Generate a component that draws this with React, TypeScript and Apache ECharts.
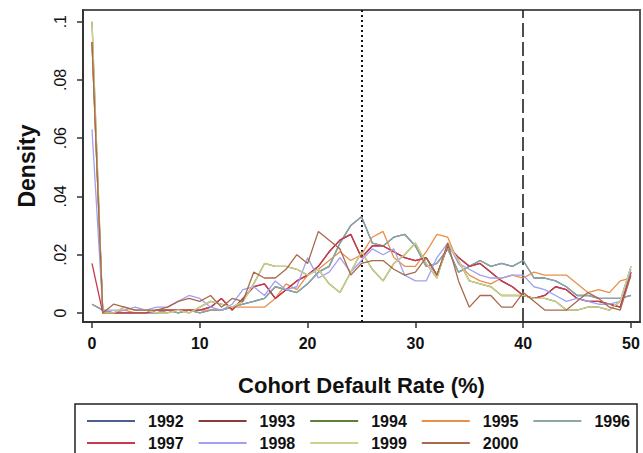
import React, { useEffect, useRef } from "react";
import * as echarts from "echarts";

const rates = [0, 1, 2, 3, 4, 5, 6, 7, 8, 9, 10, 11, 12, 13, 14, 15, 16, 17, 18, 19, 20, 21, 22, 23, 24, 25, 26, 27, 28, 29, 30, 31, 32, 33, 34, 35, 36, 37, 38, 39, 40, 41, 42, 43, 44, 45, 46, 47, 48, 49, 50];

const years = ["1992", "1993", "1994", "1995", "1996", "1997", "1998", "1999", "2000"];
const colors = ["#4c5f8f", "#8c3b3b", "#5f7f3f", "#e89048", "#8fa89f", "#c8384e", "#a0a0f0", "#cfd08a", "#a86a4a"];

const d1992 = [0.003, 0.001, 0.000, 0.000, 0.000, 0.000, 0.000, 0.001, 0.000, 0.001, 0.000, 0.001, 0.001, 0.002, 0.003, 0.004, 0.005, 0.009, 0.008, 0.007, 0.010, 0.014, 0.016, 0.024, 0.030, 0.033, 0.024, 0.023, 0.026, 0.027, 0.023, 0.016, 0.017, 0.022, 0.014, 0.016, 0.018, 0.016, 0.017, 0.016, 0.018, 0.012, 0.012, 0.011, 0.009, 0.006, 0.006, 0.005, 0.005, 0.005, 0.006];
const d1993 = [0.093, 0.000, 0.000, 0.000, 0.000, 0.000, 0.001, 0.001, 0.001, 0.001, 0.001, 0.002, 0.005, 0.001, 0.005, 0.009, 0.010, 0.005, 0.008, 0.011, 0.013, 0.016, 0.021, 0.025, 0.027, 0.019, 0.023, 0.023, 0.021, 0.019, 0.018, 0.019, 0.013, 0.023, 0.019, 0.016, 0.017, 0.014, 0.011, 0.009, 0.006, 0.005, 0.006, 0.009, 0.008, 0.005, 0.004, 0.004, 0.003, 0.002, 0.014];
const d1994 = [0.100, 0.000, 0.000, 0.002, 0.001, 0.001, 0.000, 0.000, 0.001, 0.000, 0.002, 0.004, 0.003, 0.002, 0.004, 0.010, 0.017, 0.016, 0.016, 0.015, 0.013, 0.015, 0.010, 0.007, 0.014, 0.021, 0.015, 0.011, 0.017, 0.020, 0.024, 0.017, 0.012, 0.024, 0.018, 0.011, 0.010, 0.009, 0.006, 0.006, 0.006, 0.005, 0.005, 0.004, 0.001, 0.001, 0.002, 0.002, 0.001, 0.004, 0.016];
const d1995 = [0.093, 0.000, 0.000, 0.001, 0.000, 0.000, 0.001, 0.001, 0.001, 0.001, 0.001, 0.001, 0.001, 0.002, 0.002, 0.002, 0.002, 0.005, 0.010, 0.008, 0.013, 0.015, 0.018, 0.021, 0.018, 0.020, 0.026, 0.028, 0.019, 0.016, 0.016, 0.021, 0.027, 0.026, 0.017, 0.013, 0.011, 0.010, 0.012, 0.013, 0.012, 0.014, 0.013, 0.013, 0.013, 0.010, 0.007, 0.008, 0.007, 0.011, 0.012];
const d1996 = [0.003, 0.001, 0.000, 0.000, 0.000, 0.000, 0.000, 0.001, 0.000, 0.001, 0.000, 0.001, 0.001, 0.002, 0.003, 0.004, 0.005, 0.009, 0.008, 0.007, 0.010, 0.014, 0.016, 0.024, 0.030, 0.033, 0.024, 0.023, 0.026, 0.027, 0.023, 0.016, 0.017, 0.022, 0.014, 0.016, 0.018, 0.016, 0.017, 0.016, 0.018, 0.012, 0.012, 0.011, 0.009, 0.006, 0.006, 0.005, 0.005, 0.005, 0.006];
const d1997 = [0.017, 0.000, 0.000, 0.000, 0.000, 0.000, 0.001, 0.001, 0.001, 0.001, 0.001, 0.002, 0.005, 0.001, 0.005, 0.009, 0.010, 0.005, 0.008, 0.011, 0.013, 0.016, 0.021, 0.025, 0.027, 0.019, 0.023, 0.023, 0.021, 0.019, 0.018, 0.019, 0.013, 0.023, 0.019, 0.016, 0.017, 0.014, 0.011, 0.009, 0.006, 0.005, 0.006, 0.009, 0.008, 0.005, 0.004, 0.004, 0.003, 0.002, 0.014];
const d1998 = [0.063, 0.001, 0.001, 0.001, 0.002, 0.001, 0.002, 0.002, 0.004, 0.006, 0.005, 0.002, 0.001, 0.003, 0.008, 0.009, 0.006, 0.011, 0.008, 0.009, 0.019, 0.012, 0.014, 0.019, 0.014, 0.018, 0.022, 0.020, 0.022, 0.013, 0.011, 0.011, 0.019, 0.024, 0.017, 0.015, 0.013, 0.012, 0.012, 0.013, 0.013, 0.009, 0.008, 0.006, 0.004, 0.005, 0.004, 0.003, 0.003, 0.004, 0.015];
const d1999 = [0.100, 0.000, 0.000, 0.002, 0.001, 0.001, 0.000, 0.000, 0.001, 0.000, 0.002, 0.004, 0.003, 0.002, 0.004, 0.010, 0.017, 0.016, 0.016, 0.015, 0.013, 0.015, 0.010, 0.007, 0.014, 0.021, 0.015, 0.011, 0.017, 0.020, 0.024, 0.017, 0.012, 0.024, 0.018, 0.011, 0.010, 0.009, 0.006, 0.006, 0.006, 0.005, 0.005, 0.004, 0.001, 0.001, 0.002, 0.002, 0.001, 0.004, 0.016];
const d2000 = [0.093, 0.000, 0.003, 0.002, 0.001, 0.001, 0.001, 0.002, 0.004, 0.005, 0.004, 0.006, 0.002, 0.005, 0.004, 0.014, 0.012, 0.012, 0.015, 0.020, 0.017, 0.028, 0.025, 0.022, 0.013, 0.017, 0.018, 0.018, 0.015, 0.013, 0.014, 0.019, 0.013, 0.024, 0.011, 0.002, 0.006, 0.006, 0.002, 0.002, 0.007, 0.004, 0.001, 0.001, 0.001, 0.004, 0.007, 0.005, 0.002, 0.001, 0.013];

const densities = [d1992, d1993, d1994, d1995, d1996, d1997, d1998, d1999, d2000];

const xTicks = [0, 10, 20, 30, 40, 50];
const yTicks = [0, 0.02, 0.04, 0.06, 0.08, 0.1];
const yTickLabels = ["0", ".02", ".04", ".06", ".08", ".1"];
const dottedAt = 25;
const dashedAt = 40;

const FONT = "'Liberation Sans', Arial, sans-serif";

export default function App() {
  const ref = useRef<HTMLDivElement>(null);
  useEffect(() => {
    const chart = echarts.init(ref.current!, null, { renderer: "svg" });
    const series: any[] = years.map((y, i) => ({
      name: y,
      type: "line",
      data: rates.map((r, j) => [r, densities[i][j]]),
      symbol: "none",
      smooth: false,
      lineStyle: { width: 1.3, color: colors[i] },
      itemStyle: { color: colors[i] },
      z: 2 + i,
    }));
    series[series.length - 1].markLine = {
      silent: true,
      symbol: ["none", "none"],
      label: { show: false },
      data: [
        { xAxis: dottedAt, lineStyle: { type: [2, 3], width: 2, color: "#111" } },
        { xAxis: dashedAt, lineStyle: { type: [14, 5], width: 1.6, color: "#222" } },
      ],
    };
    const legendCommon = {
      orient: "horizontal",
      left: 82,
      itemWidth: 48,
      itemHeight: 2,
      icon: "rect",
      itemGap: 15,
      selectedMode: false,
      textStyle: { fontSize: 16, fontWeight: "bold", fontFamily: FONT, color: "#111", padding: [0, 0, 0, 8] },
    };
    chart.setOption({
      animation: false,
      backgroundColor: "#ffffff",
      color: colors,
      grid: {
        left: 83,
        top: 10,
        right: 3,
        bottom: 131,
        show: true,
        borderColor: "#555",
        borderWidth: 2,
        containLabel: false,
      },
      xAxis: {
        type: "value",
        min: -0.835,
        max: 50.835,
        name: "Cohort Default Rate (%)",
        nameLocation: "middle",
        nameGap: 52,
        nameTextStyle: { fontSize: 22, fontWeight: "bold", fontFamily: FONT, color: "#111" },
        axisLine: { show: true, onZero: false, lineStyle: { color: "#333", width: 2 } },
        axisTick: { show: true, customValues: xTicks, length: 6, lineStyle: { color: "#333", width: 1.5 } },
        axisLabel: {
          customValues: xTicks,
          margin: 13,
          fontSize: 16,
          fontWeight: "bold",
          fontFamily: FONT,
          color: "#111",
        },
        splitLine: { show: false },
      },
      yAxis: {
        type: "value",
        min: -0.0031,
        max: 0.104,
        name: "Density",
        nameLocation: "middle",
        nameGap: 45,
        nameTextStyle: { fontSize: 23, fontWeight: "bold", fontFamily: FONT, color: "#111" },
        axisLine: { show: true, onZero: false, lineStyle: { color: "#333", width: 2 } },
        axisTick: { show: true, customValues: yTicks, length: 6, lineStyle: { color: "#333", width: 1.5 } },
        axisLabel: {
          customValues: yTicks,
          rotate: 90,
          margin: 15,
          fontSize: 16,
          fontFamily: FONT,
          color: "#111",
          formatter: (v: number) => {
            const k = yTicks.findIndex((t) => Math.abs(t - v) < 1e-9);
            return k >= 0 ? yTickLabels[k] : "";
          },
        },
        splitLine: { show: false },
      },
      legend: [
        { ...legendCommon, top: 408, data: years.slice(0, 5) },
        { ...legendCommon, top: 430, data: years.slice(5) },
      ],
      graphic: [
        {
          type: "rect",
          shape: { x: 75, y: 404, width: 562, height: 60 },
          style: { fill: "none", stroke: "#222", lineWidth: 1.5 },
          silent: true,
        },
      ],
      series,
    });
    return () => chart.dispose();
  }, []);
  return <div ref={ref} style={{ position: "fixed", left: 0, top: 0, width: 643, height: 453 }} />;
}
